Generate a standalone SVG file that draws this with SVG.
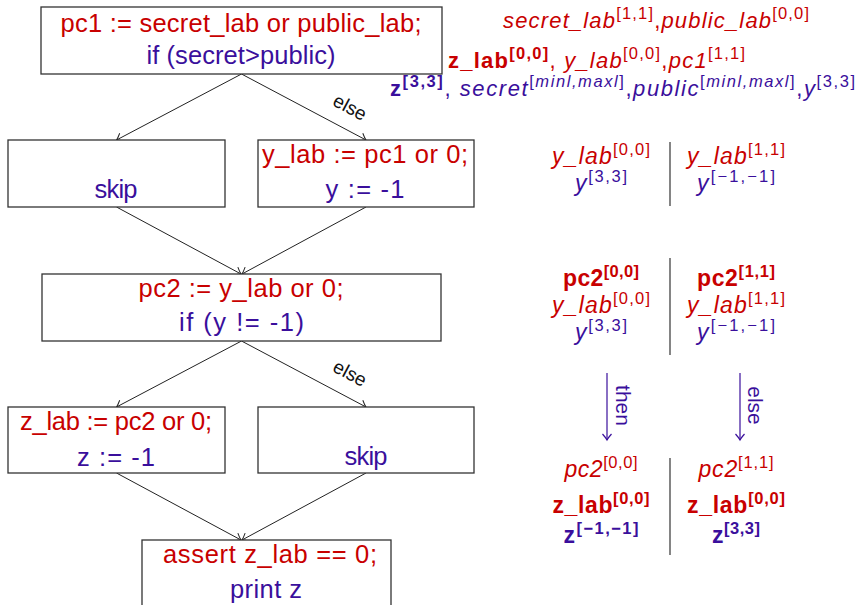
<svg xmlns="http://www.w3.org/2000/svg" width="861" height="605" viewBox="0 0 861 605">
<style>
text{font-family:"Liberation Sans",Arial,sans-serif}
.m{font-size:25.5px;text-anchor:middle}
.s{font-size:23px}
.h{font-size:22px}
.c{text-anchor:middle}
.r{fill:#c80000}
.p{fill:#3a0f9c}
.i{font-style:italic}
.b{font-weight:bold}
.u{font-size:16.5px}
.box{fill:#fff;stroke:#333;stroke-width:1.3}
.edge{fill:none;stroke:#222;stroke-width:1}
.div{stroke:#666;stroke-width:1.6}
.lbl{font-size:19px;fill:#111}
</style>
<defs>
<marker id="ah" viewBox="-8 -6 10 12" markerWidth="10" markerHeight="12" refX="0" refY="0" orient="auto" markerUnits="userSpaceOnUse">
<path d="M-6,-4.5 Q-2,-1 0,0 Q-2,1 -6,4.5" fill="none" stroke="#222" stroke-width="1"/>
</marker>
<marker id="ahp" viewBox="-8 -6 10 12" markerWidth="10" markerHeight="12" refX="0" refY="0" orient="auto" markerUnits="userSpaceOnUse">
<path d="M-6,-4.5 Q-2,-1 0,0 Q-2,1 -6,4.5" fill="none" stroke="#3a0f9c" stroke-width="1.2"/>
</marker>
</defs>
<rect width="861" height="605" fill="#fff"/>

<g id="connectors">
<line class="edge" x1="241.5" y1="74" x2="116.5" y2="140" marker-end="url(#ah)"/>
<line class="edge" x1="241.5" y1="74" x2="366" y2="140" marker-end="url(#ah)"/>
<line class="edge" x1="116.5" y1="207" x2="241" y2="274" marker-end="url(#ah)"/>
<line class="edge" x1="366" y1="207" x2="242" y2="274" marker-end="url(#ah)"/>
<line class="edge" x1="241.5" y1="341" x2="116.5" y2="407" marker-end="url(#ah)"/>
<line class="edge" x1="241.5" y1="341" x2="366" y2="407" marker-end="url(#ah)"/>
<line class="edge" x1="116.5" y1="473" x2="241" y2="540" marker-end="url(#ah)"/>
<line class="edge" x1="366" y1="473" x2="242" y2="540" marker-end="url(#ah)"/>
<text class="lbl" transform="translate(347,113) rotate(28)" text-anchor="middle">else</text>
<text class="lbl" transform="translate(347,379) rotate(28)" text-anchor="middle">else</text>
</g>

<g id="n1">
<rect class="box" x="41" y="7" width="401" height="67"/>
<text class="m r" x="241" y="32" textLength="361" lengthAdjust="spacing">pc1 := secret_lab or public_lab;</text>
<text class="m p" x="241" y="64" textLength="189" lengthAdjust="spacing">if (secret&gt;public)</text>
</g>
<g id="n2">
<rect class="box" x="8" y="140" width="217" height="67"/>
<text class="m p" x="116" y="198" textLength="43">skip</text>
</g>
<g id="n3">
<rect class="box" x="258" y="140" width="216" height="67"/>
<text class="m r" x="365" y="163" textLength="206">y_lab := pc1 or 0;</text>
<text class="m p" x="365" y="198" textLength="79">y := -1</text>
</g>
<g id="n4">
<rect class="box" x="42" y="274" width="399" height="67"/>
<text class="m r" x="241" y="297" textLength="205">pc2 := y_lab or 0;</text>
<text class="m p" x="241.5" y="331" textLength="125">if (y != -1)</text>
</g>
<g id="n5">
<rect class="box" x="8" y="407" width="217" height="66"/>
<text class="m r" x="116" y="430" textLength="192">z_lab := pc2 or 0;</text>
<text class="m p" x="116" y="466" textLength="78">z := -1</text>
</g>
<g id="n6">
<rect class="box" x="258" y="407" width="216" height="66"/>
<text class="m p" x="366" y="465" textLength="43">skip</text>
</g>
<g id="n7">
<rect class="box" x="142" y="540" width="249" height="70"/>
<text class="m r" x="270" y="563" textLength="214">assert z_lab == 0;</text>
<text class="m p" x="266" y="598" textLength="72">print z</text>
</g>

<g id="header">
<text class="h r" x="503" y="28" textLength="306"><tspan class="i">secret_lab</tspan><tspan class="u" dy="-9">[1,1]</tspan><tspan dy="9">,</tspan><tspan class="i">public_lab</tspan><tspan class="u" dy="-9">[0,0]</tspan></text>
<text class="h r" x="448" y="68" textLength="297"><tspan class="b">z_lab</tspan><tspan class="u b" dy="-9">[0,0]</tspan><tspan dy="9">, </tspan><tspan class="i">y_lab</tspan><tspan class="u" dy="-9">[0,0]</tspan><tspan dy="9">,</tspan><tspan class="i">pc1</tspan><tspan class="u" dy="-9">[1,1]</tspan></text>
<text class="h p" x="390" y="96" textLength="465"><tspan class="b">z</tspan><tspan class="u b" dy="-9">[3,3]</tspan><tspan dy="9">, </tspan><tspan class="i">secret</tspan><tspan class="u" dy="-9">[<tspan class="i">minl,maxl</tspan>]</tspan><tspan dy="9">,</tspan><tspan class="i">public</tspan><tspan class="u" dy="-9">[<tspan class="i">minl,maxl</tspan>]</tspan><tspan dy="9">,</tspan><tspan class="i">y</tspan><tspan class="u" dy="-9">[3,3]</tspan></text>
</g>

<g id="panel1">
<text class="s c r" x="601" y="164" textLength="98"><tspan class="i">y_lab</tspan><tspan class="u" dy="-9">[0,0]</tspan></text>
<text class="s c p" x="601" y="191" textLength="52"><tspan class="i">y</tspan><tspan class="u" dy="-9">[3,3]</tspan></text>
<line class="div" x1="670" y1="142" x2="670" y2="206"/>
<text class="s c r" x="736" y="164" textLength="98"><tspan class="i">y_lab</tspan><tspan class="u" dy="-9">[1,1]</tspan></text>
<text class="s c p" x="736" y="191" textLength="78"><tspan class="i">y</tspan><tspan class="u" dy="-9">[−1,−1]</tspan></text>
</g>

<g id="panel2">
<text class="s c r b" x="601" y="286" textLength="76">pc2<tspan class="u" dy="-9">[0,0]</tspan></text>
<text class="s c r" x="601" y="313" textLength="98"><tspan class="i">y_lab</tspan><tspan class="u" dy="-9">[0,0]</tspan></text>
<text class="s c p" x="601" y="340" textLength="52"><tspan class="i">y</tspan><tspan class="u" dy="-9">[3,3]</tspan></text>
<line class="div" x1="670" y1="258" x2="670" y2="355"/>
<text class="s c r b" x="736" y="286" textLength="78">pc2<tspan class="u" dy="-9">[1,1]</tspan></text>
<text class="s c r" x="736" y="313" textLength="98"><tspan class="i">y_lab</tspan><tspan class="u" dy="-9">[1,1]</tspan></text>
<text class="s c p" x="736" y="340" textLength="78"><tspan class="i">y</tspan><tspan class="u" dy="-9">[−1,−1]</tspan></text>
</g>

<g id="branch-arrows">
<line x1="607" y1="373" x2="607" y2="440" stroke="#3a0f9c" stroke-width="1.2" marker-end="url(#ahp)"/>
<text class="p" font-size="21" text-anchor="middle" transform="translate(616,405.5) rotate(90)">then</text>
<line x1="740" y1="373" x2="740" y2="440" stroke="#3a0f9c" stroke-width="1.2" marker-end="url(#ahp)"/>
<text class="p" font-size="21" text-anchor="middle" transform="translate(748,405.5) rotate(90)">else</text>
</g>

<g id="panel3">
<text class="s c r" x="601" y="477" textLength="73"><tspan class="i">pc2</tspan><tspan class="u" dy="-9">[0,0]</tspan></text>
<text class="s c r b" x="601" y="513" textLength="97">z_lab<tspan class="u" dy="-9">[0,0]</tspan></text>
<text class="s c p b" x="601" y="543" textLength="75">z<tspan class="u" dy="-9">[−1,−1]</tspan></text>
<line class="div" x1="670" y1="458" x2="670" y2="555"/>
<text class="s c r" x="736" y="477" textLength="75"><tspan class="i">pc2</tspan><tspan class="u" dy="-9">[1,1]</tspan></text>
<text class="s c r b" x="736" y="513" textLength="98">z_lab<tspan class="u" dy="-9">[0,0]</tspan></text>
<text class="s c p b" x="736" y="543" textLength="48">z<tspan class="u" dy="-9">[3,3]</tspan></text>
</g>
</svg>
